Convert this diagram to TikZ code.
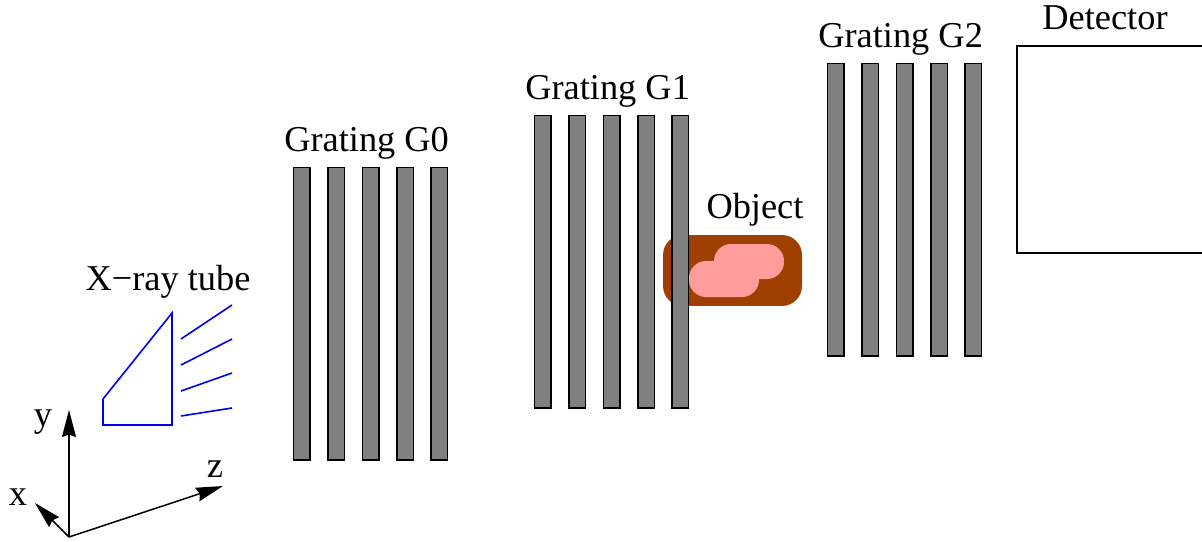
\documentclass[tikz,border=0pt]{standalone}
\usepackage{fontspec}
\setmainfont{Liberation Serif}
\usetikzlibrary{arrows.meta,positioning,shapes}
\definecolor{objbrown}{HTML}{A04000}
\definecolor{objpink}{HTML}{FF9C9C}
\definecolor{tubeblue}{HTML}{0000F0}
\tikzset{every node/.style={font=\fontsize{20.7}{24}\selectfont},
    bar/.style={draw=black,fill=black!50,line width=0.03cm,inner sep=0,outer sep=0,minimum width=0.33cm,minimum height=5.85cm},
    lbl/.style={inner sep=0,outer sep=0},
    ray/.style={tubeblue,line width=0.032cm},
    axis/.style={line width=0.03cm,-{Stealth[length=0.54cm,width=0.28cm,inset=0.05cm]}}}

\begin{document}
\begin{tikzpicture}[x=0.02cm,y=-0.02cm]
    \useasboundingbox (0,0) rectangle (1202,541);
    % object
    \node[fill=objbrown,rounded corners=0.4cm,minimum width=2.78cm,minimum height=1.42cm,inner sep=0] (obj) at (732.5,270.5) {};
    \node[fill=objpink,rounded corners=0.34cm,minimum width=1.4cm,minimum height=0.7cm,inner sep=0] (blobtop) at (749,261.5) {};
    \node[fill=objpink,rounded corners=0.34cm,minimum width=1.4cm,minimum height=0.72cm,inner sep=0] (blobbot) at (724,279) {};
    % gratings
    \foreach \i in {1,...,5}{
        \node[bar] (ga\i) at ({301.8+(\i-1)*34.4},313.7) {};
        \node[bar] (gb\i) at ({542.8+(\i-1)*34.4},261.7) {};
        \node[bar] (gc\i) at ({835.8+(\i-1)*34.4},209.7) {};
    }
    \node[lbl,above=0.16cm of ga3,xshift=-0.08cm] (lga) {Grating G0};
    \node[lbl,above=0.16cm of gb3,xshift=-0.08cm] (lgb) {Grating G1};
    \node[lbl,above=0.16cm of gc3,xshift=-0.08cm] (lgc) {Grating G2};
    \node[lbl] (lobj) at (755,210) {Object};
    % detector, runs off the page
    \node[draw=black,line width=0.026cm,inner sep=0,minimum width=4.2cm,minimum height=4.14cm] (det) at (1122,149.5) {};
    \node[lbl] (ldet) at (1105,18) {Detector};
    % tube
    \draw[ray] (172,313) -- (103,399) -- (103,425) -- (172,425) -- cycle;
    \node[lbl] (ltube) at (168,282) {X−ray tube};
    \coordinate (ra) at (181,339); \coordinate (rb) at (181,365);
    \coordinate (rc) at (181,391); \coordinate (rd) at (181,416);
    \coordinate (sa) at (232,305); \coordinate (sb) at (232,339);
    \coordinate (sc) at (232,373); \coordinate (sd) at (232,408);
    \draw[ray] (ra) -- (sa);
    \draw[ray] (rb) -- (sb);
    \draw[ray] (rc) -- (sc);
    \draw[ray] (rd) -- (sd);
    % axes
    \coordinate (orig) at (69,537);
    \coordinate (ytip) at (69,410);
    \coordinate (ztip) at (223,486);
    \coordinate (xtip) at (35,503);
    \draw[axis] (orig) -- (ytip);
    \draw[axis] (orig) -- (ztip);
    \draw[axis] (orig) -- (xtip);
    \node[lbl] (ly) at (43,422) {y};
    \node[lbl] (lz) at (215,469) {z};
    \node[lbl] (lx) at (18,497) {x};
\end{tikzpicture}
\end{document}
